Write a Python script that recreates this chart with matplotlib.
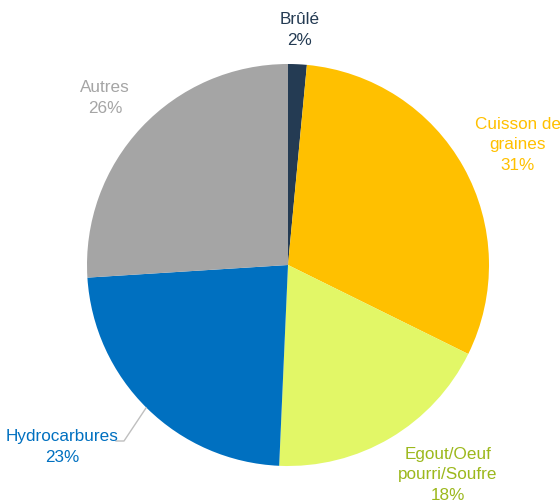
import matplotlib
matplotlib.use("Agg")
import matplotlib.pyplot as plt

plt.rcParams['font.family'] = ['Liberation Sans', 'DejaVu Sans']

categories = ["Brûlé", "Cuisson de\ngraines", "Egout/Oeuf\npourri/Soufre", "Hydrocarbures", "Autres"]
values = [1.5, 30.8, 18.4, 23.3, 26.0]
slice_colors = ["#243B53", "#FFC000", "#E2F767", "#0070C0", "#A5A5A5"]
label_colors = ["#243B53", "#FFC000", "#9CB81C", "#0070C0", "#A5A5A5"]
# position des etiquettes (pixels, origine en haut a gauche)
label_pos = [(300, 30), (518, 145), (448, 475), (62, 447), (105, 98)]

W, H = 560, 504
fig = plt.figure(figsize=(W / 100, H / 100), dpi=100)
ax = fig.add_axes([0, 0, 1, 1])

cx, cy, r = 288, H - 265, 201
ax.pie(values, colors=slice_colors, startangle=90, counterclock=False,
       center=(cx, cy), radius=r, frame=True,
       wedgeprops=dict(linewidth=0))
ax.set_xlim(0, W)
ax.set_ylim(0, H)
ax.set_aspect('equal')
ax.axis('off')

for cat, v, col, (x, y) in zip(categories, values, label_colors, label_pos):
    ax.text(x, H - y, f"{cat}\n{v:.0f}%", color=col, fontsize=12.3,
            ha='center', va='center', linespacing=1.45)

# ligne de rappel Hydrocarbures
ax.plot([116, 124, 146], [H - 441, H - 441, H - 408], color="#BFBFBF", lw=1)

fig.savefig("out.png", dpi=100)
